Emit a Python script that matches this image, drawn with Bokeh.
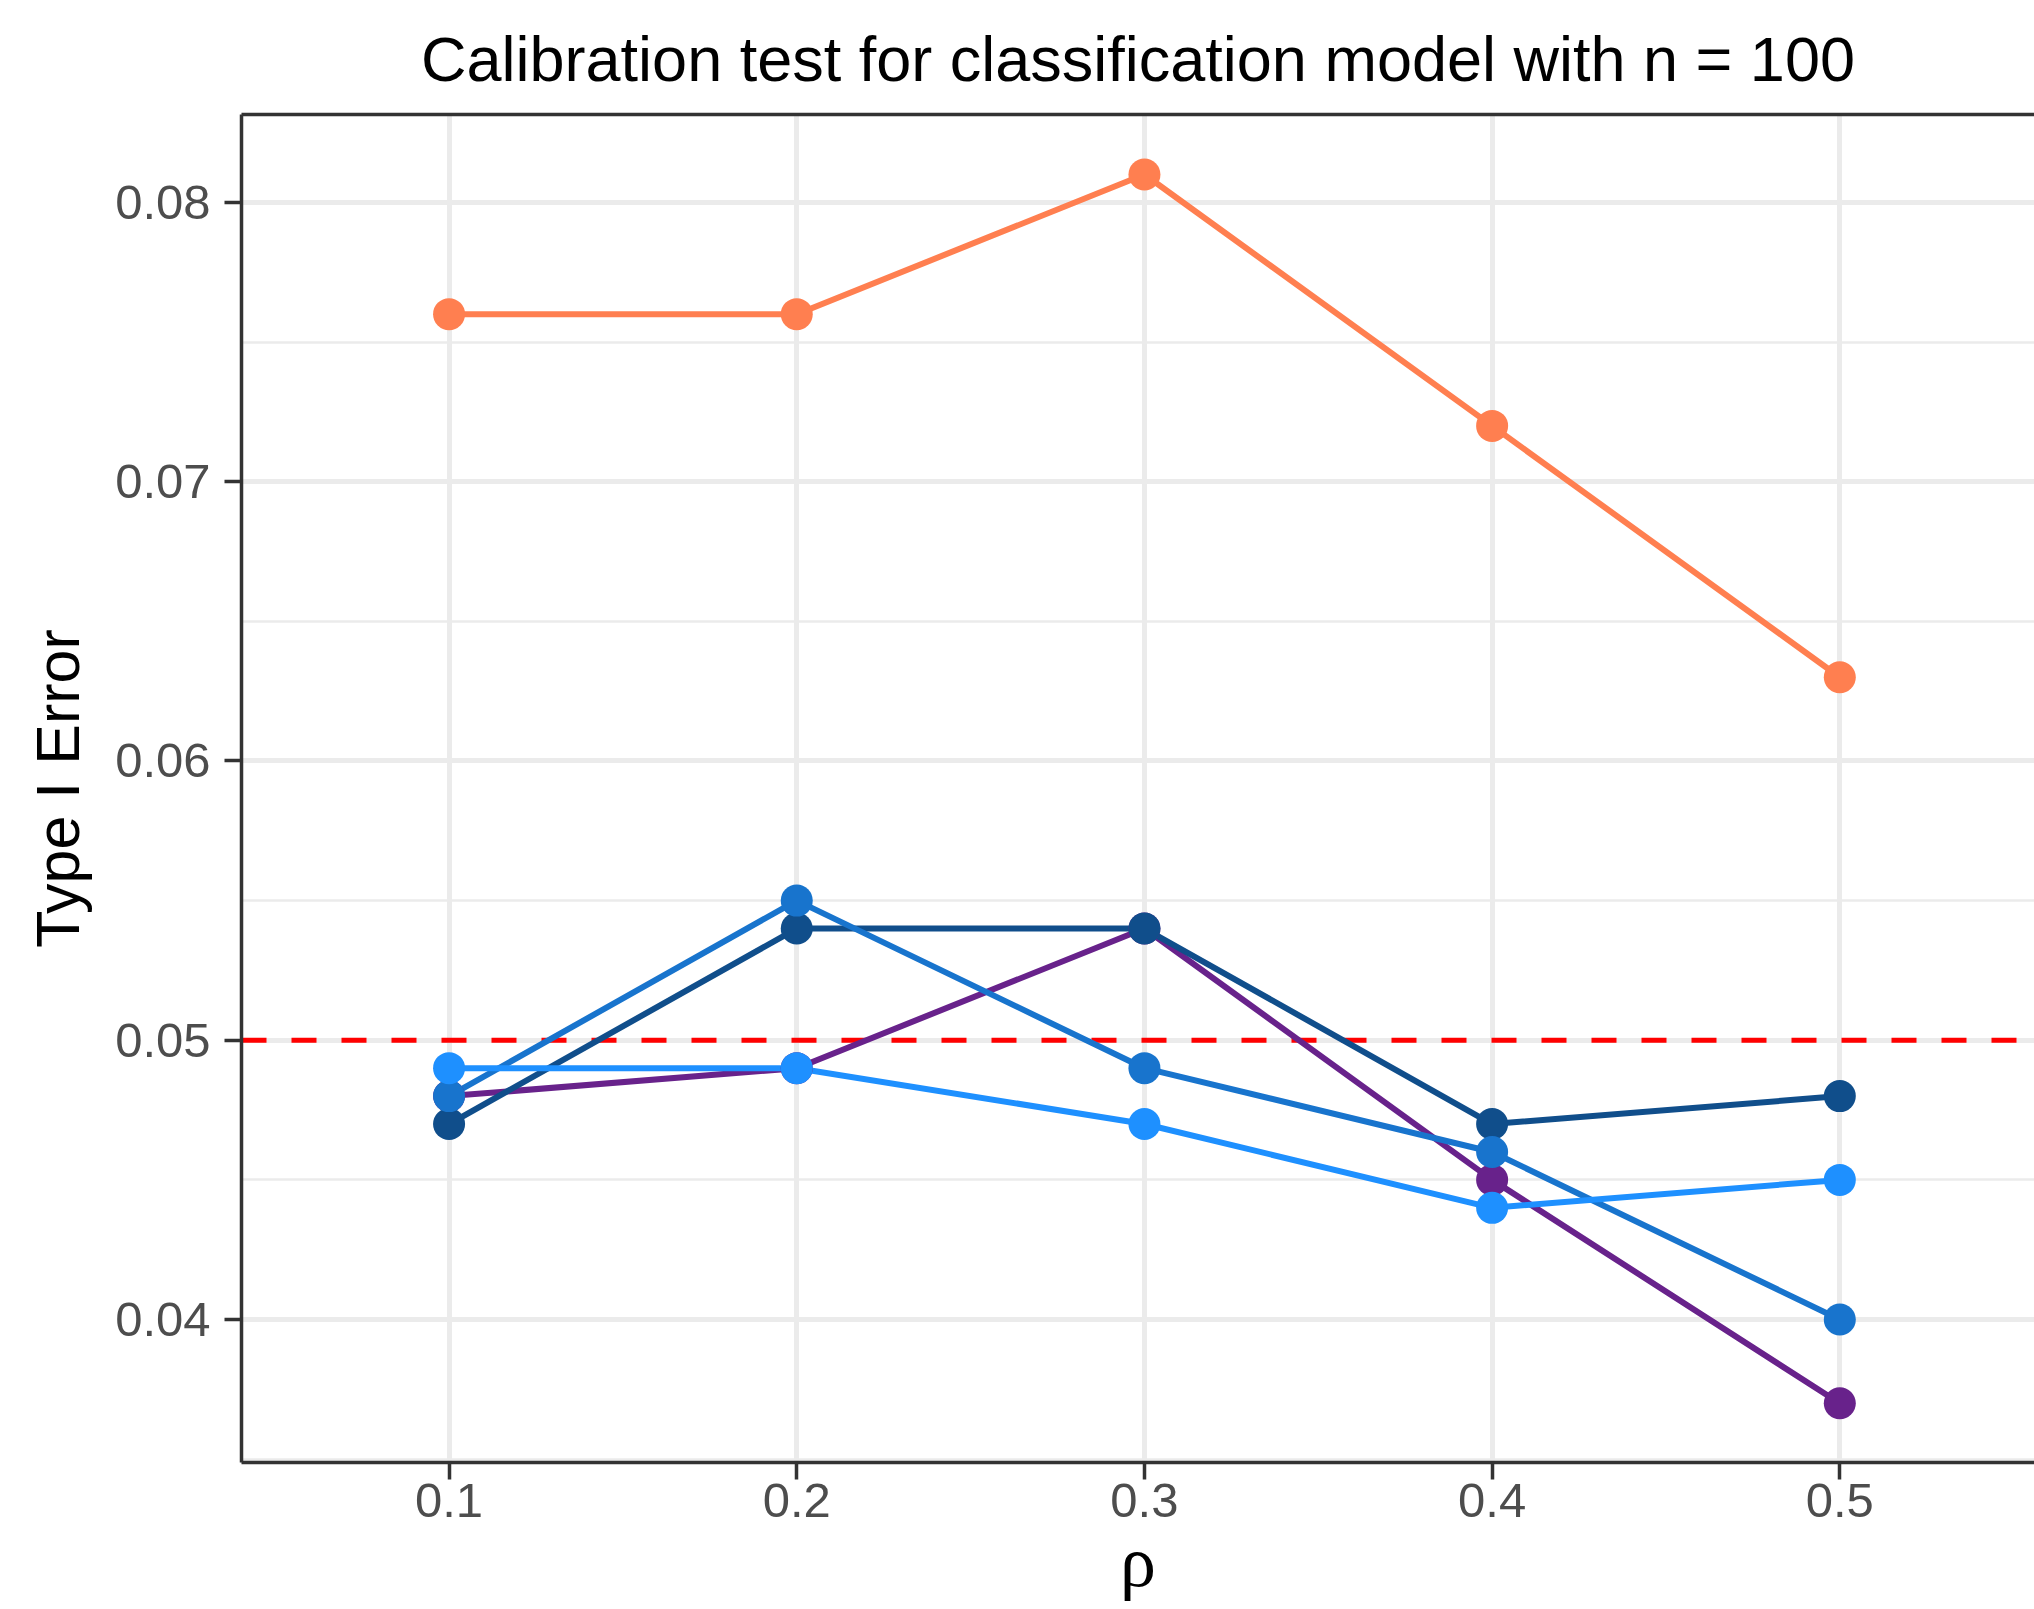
from bokeh.plotting import figure
from bokeh.models import FixedTicker, PrintfTickFormatter, Span, LinearAxis, Range1d
from bokeh.embed import file_html
from bokeh.resources import INLINE

# ---- data ----
rho = [0.1, 0.2, 0.3, 0.4, 0.5]
series_names = ["purple", "navy", "mid", "light", "orange"]
s_purple = [0.048, 0.049, 0.054, 0.045, 0.037]
s_navy = [0.047, 0.054, 0.054, 0.047, 0.048]
s_mid = [0.048, 0.055, 0.049, 0.046, 0.040]
s_light = [0.049, 0.049, 0.047, 0.044, 0.045]
s_orange = [0.076, 0.076, 0.081, 0.072, 0.063]
nominal_level = 0.05
x_ticks = [0.1, 0.2, 0.3, 0.4, 0.5]
y_ticks = [0.04, 0.05, 0.06, 0.07, 0.08]
y_minor = [0.035, 0.045, 0.055, 0.065, 0.075]

colors = ["#68228B", "#104E8B", "#1874CD", "#1E90FF", "#FF7F50"]
values = [s_purple, s_navy, s_mid, s_light, s_orange]

FONT = "Liberation Sans"

p = figure(width=2034, height=1609, output_backend="svg", toolbar_location=None,
           x_range=Range1d(0.0403, 0.556), y_range=Range1d(0.03488, 0.08315),
           min_border_left=241, min_border_right=0, min_border_top=114,
           min_border_bottom=147, x_axis_label="ρ", y_axis_label="Type I Error")

p.title.text = "Calibration test for classification model with n = 100"
p.title.text_font = FONT
p.title.text_font_size = "63px"
p.title.text_font_style = "normal"
p.title.text_color = "#000000"
p.title.align = "center"
p.title.vertical_align = "bottom"
p.title.text_line_height = 0.6
p.title.standoff = 42

p.outline_line_color = None
p.background_fill_color = "white"
p.border_fill_color = "white"

# grids
p.xgrid.ticker = FixedTicker(ticks=x_ticks)
p.xgrid.grid_line_color = "#EBEBEB"
p.xgrid.grid_line_width = 5
p.ygrid.ticker = FixedTicker(ticks=y_ticks, minor_ticks=y_minor)
p.ygrid.grid_line_color = "#EBEBEB"
p.ygrid.grid_line_width = 5
p.ygrid.minor_grid_line_color = "#EBEBEB"
p.ygrid.minor_grid_line_width = 2.5

for ax in (p.xaxis[0], p.yaxis[0]):
    ax.axis_line_color = "#333333"
    ax.axis_line_width = 3.5
    ax.major_tick_line_color = "#333333"
    ax.major_tick_line_width = 3.5
    ax.major_tick_out = 17
    ax.major_tick_in = 0
    ax.minor_tick_line_color = None
    ax.major_label_text_font = FONT
    ax.major_label_text_font_size = "49px"
    ax.major_label_text_color = "#4D4D4D"
    ax.axis_label_text_color = "#000000"
    ax.axis_label_text_font_style = "normal"

p.xaxis.ticker = FixedTicker(ticks=x_ticks)
p.xaxis.formatter = PrintfTickFormatter(format="%.1f")
p.xaxis.major_label_standoff = 4
p.xaxis.axis_label_text_font = "Liberation Serif"
p.xaxis.axis_label_text_font_size = "72px"
p.xaxis.axis_label_standoff = 2

p.yaxis.ticker = FixedTicker(ticks=y_ticks)
p.yaxis.formatter = PrintfTickFormatter(format="%.2f")
p.yaxis.major_label_standoff = 14
p.yaxis.axis_label_text_font = FONT
p.yaxis.axis_label_text_font_size = "61px"
p.yaxis.axis_label_standoff = 20

# top border
top_ax = LinearAxis(ticker=FixedTicker(ticks=[]), axis_line_color="#333333",
                    axis_line_width=3.5, major_tick_line_color=None,
                    major_tick_out=0, major_tick_in=0, major_label_standoff=0,
                    minor_tick_out=0, minor_tick_in=0,
                    minor_tick_line_color=None, major_label_text_font_size="0px")
p.add_layout(top_ax, "above")

# reference line
ref = Span(location=nominal_level, dimension="width", line_color="#FF0000",
           line_width=5, line_dash="25 25", level="underlay")
p.add_layout(ref)

for vals, c in zip(values, colors):
    p.line(rho, vals, line_color=c, line_width=6)
for vals, c in zip(values, colors):
    p.scatter(rho, vals, size=32, fill_color=c, line_color=c, line_width=0)

open("out.html", "w").write(file_html(p, INLINE))
